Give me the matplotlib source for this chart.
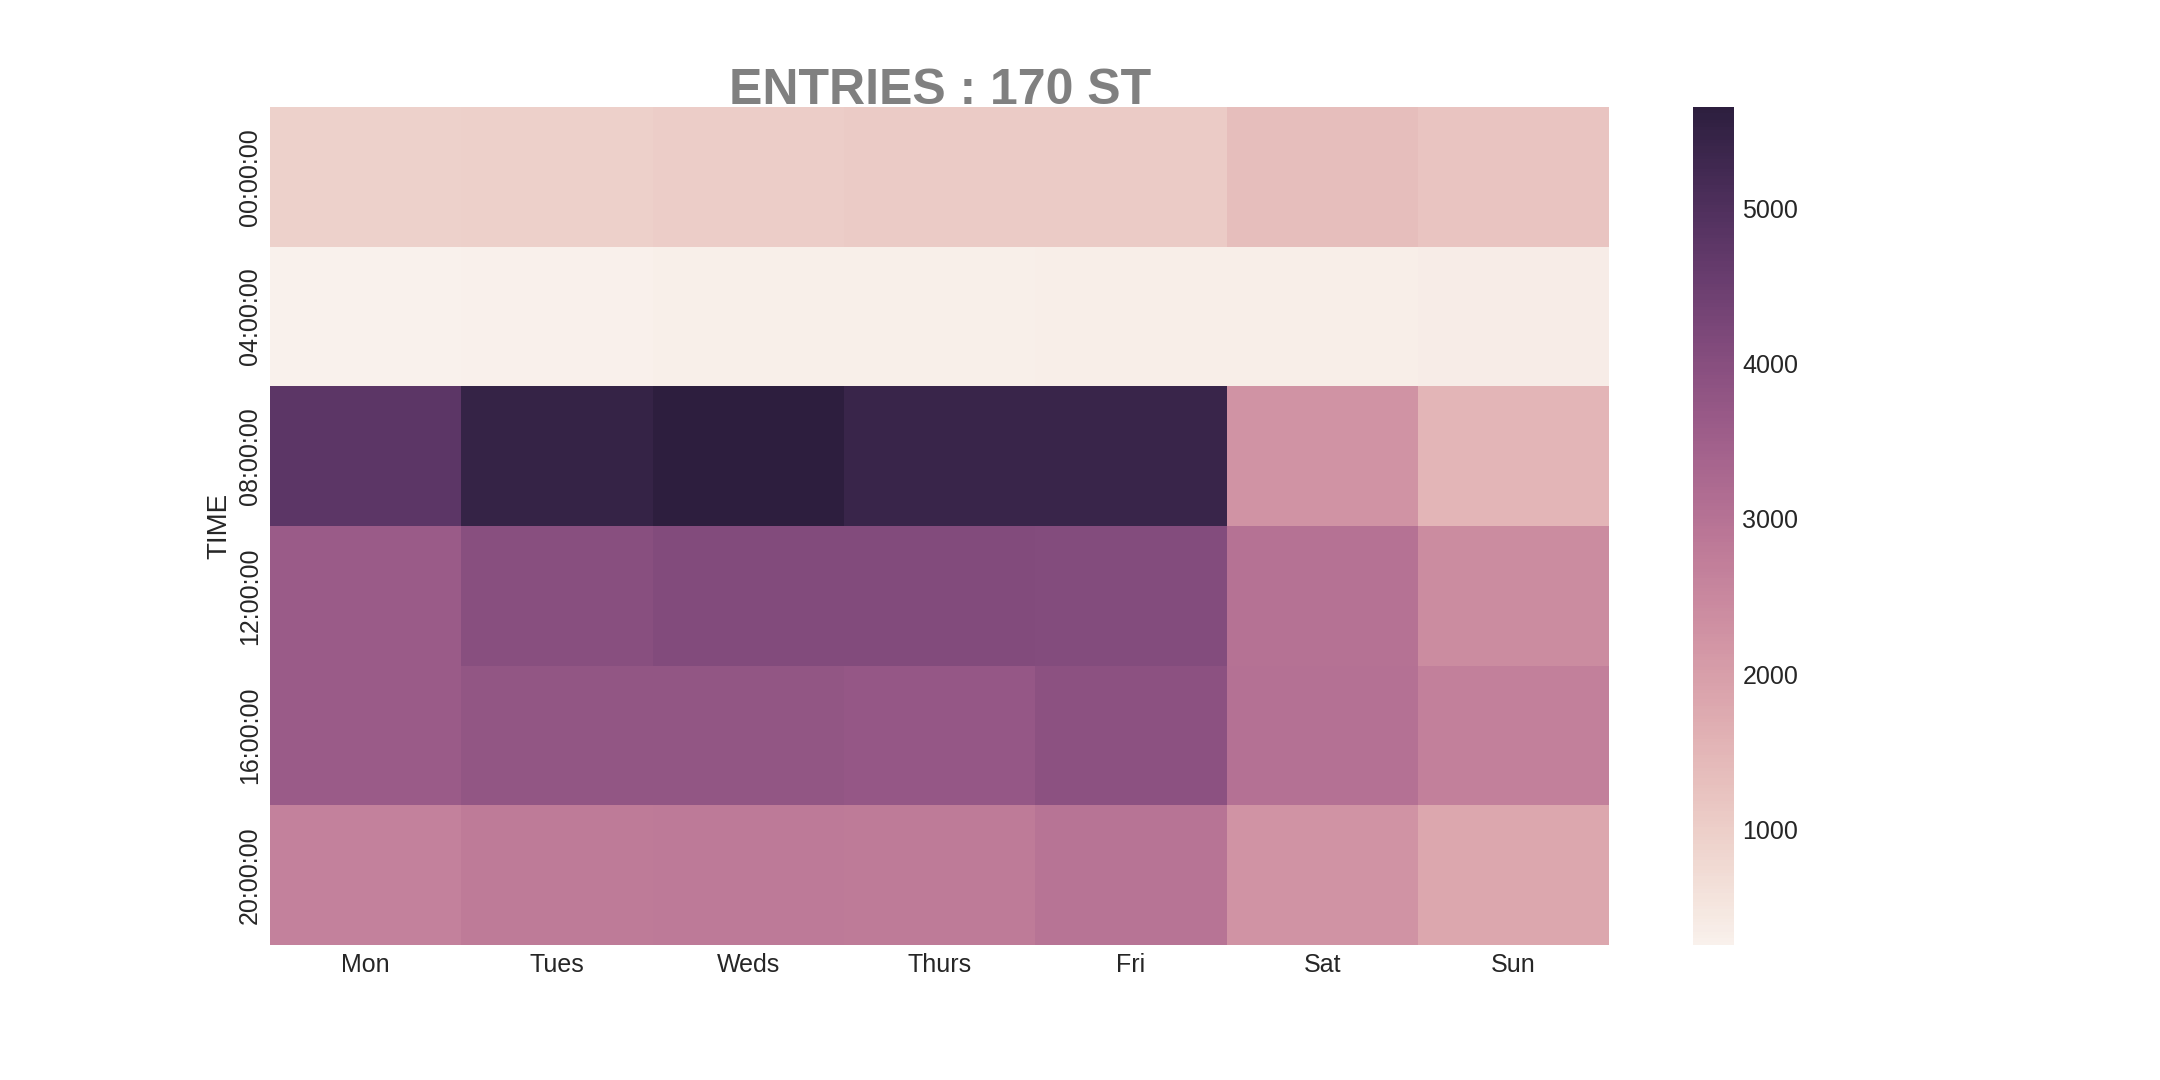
import numpy as np
import pandas as pd
import matplotlib
matplotlib.use("Agg")
import matplotlib.pyplot as plt
import seaborn as sns

days = ["Mon", "Tues", "Weds", "Thurs", "Fri", "Sat", "Sun"]
times = ["00:00:00", "04:00:00", "08:00:00", "12:00:00", "16:00:00", "20:00:00"]
row_0000 = [940, 960, 1030, 1060, 1070, 1350, 1200]
row_0400 = [255, 290, 300, 310, 320, 330, 380]
row_0800 = [4780, 5480, 5655, 5420, 5420, 2250, 1500]
row_1200 = [3620, 3980, 4080, 4080, 4060, 3000, 2420]
row_1600 = [3620, 3780, 3780, 3720, 3920, 3050, 2680]
row_2000 = [2650, 2820, 2840, 2820, 2960, 2250, 1800]

df = pd.DataFrame([row_0000, row_0400, row_0800, row_1200, row_1600, row_2000],
                  index=times, columns=days)

sns.set_style("whitegrid")
plt.rcParams['font.family'] = ['Liberation Sans', 'DejaVu Sans']
text_color = "#262626"

fig = plt.figure(figsize=(21.6, 10.8), dpi=100)
ax = fig.add_axes([0.125, 0.125, 0.62, 0.776])
cax = fig.add_axes([0.7838, 0.125, 0.019, 0.776])

cmap = sns.cubehelix_palette(light=0.95, as_cmap=True)
sns.heatmap(df, ax=ax, cbar_ax=cax, cmap=cmap)

ax.set_title("ENTRIES : 170 ST", fontsize=36, fontweight="bold", color="#808080",
             family=['Liberation Sans Narrow', 'Liberation Sans'], pad=2)
ax.set_ylabel("TIME", fontsize=20, color=text_color)
ax.set_xlabel("")
ax.tick_params(axis='x', labelsize=18, colors=text_color, length=0, pad=6, labelrotation=0)
ax.tick_params(axis='y', labelsize=18, colors=text_color, length=0, pad=6, labelrotation=90)
for lab in ax.get_yticklabels():
    lab.set_va('center')
cax.tick_params(labelsize=18, colors=text_color, length=0, pad=6)
for s in cax.spines.values():
    s.set_visible(False)

fig.savefig("out.png", dpi=100)
